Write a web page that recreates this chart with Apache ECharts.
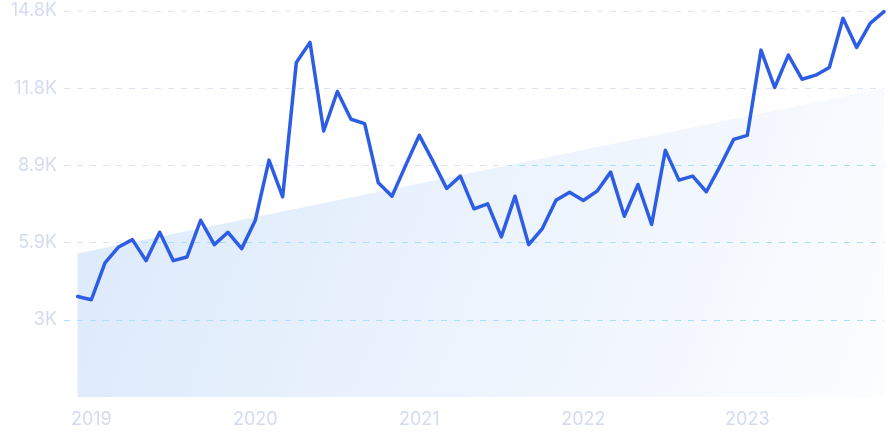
<!DOCTYPE html>
<html>
<head>
<meta charset="utf-8">
<script src="https://cdn.jsdelivr.net/npm/echarts@6/dist/echarts.min.js"></script>
<style>html,body{margin:0;padding:0;background:#fff}#c{width:888px;height:443px}</style>
</head>
<body>
<div id="c"></div>
<script>
// Monthly categories: Dec 2018 .. Nov 2023 (a leading blank slot lets the grid lines start left of the data)
const firstYear = 2018, firstMonth = 12, monthCount = 60;
const categories = [''];
for (let k = 0; k < monthCount; k++) {
  const m = (firstMonth - 1 + k) % 12 + 1;
  const y = firstYear + Math.floor((firstMonth - 1 + k) / 12);
  categories.push(y + '-' + String(m).padStart(2, '0'));
}

const values = [
  3856, 3729, 5140, 5754, 6035, 5228, 6316, 5228, 5370, 6777,
  5843, 6316, 5689, 6777, 9083, 7677, 12827, 13597, 10198, 11713,
  10648, 10482, 8214, 7700, 8880, 10033, 9033, 7996, 8469, 7215,
  7407, 6139, 7700, 5843, 6458, 7546, 7853, 7534, 7892, 8622,
  6931, 8149, 6612, 9456, 8315, 8469, 7869, 8841, 9879, 10033,
  13300, 11866, 13108, 12185, 12339, 12635, 14519, 13404, 14338, 14773
];

const trendStart = 5500;
const trendEnd = 11840;

const yTicks = [0, 2960, 5920, 8880, 11840, 14800];
const yTickLabels = ['', '3K', '5.9K', '8.9K', '11.8K', '14.8K'];

const lineData = [null].concat(values);
const trendData = [null, trendStart];
for (let k = 2; k < monthCount; k++) trendData.push(null);
trendData.push(trendEnd);

const chart = echarts.init(document.getElementById('c'), null, {renderer: 'canvas'});

const splitColor = new echarts.graphic.LinearGradient(471, 122.5, 491, 220.5, [
  {offset: 0, color: '#dbe3f7'},
  {offset: 0.5, color: '#dbe3f7'},
  {offset: 0.5, color: '#a8e0ff'},
  {offset: 1, color: '#a8e0ff'}
], true);

chart.setOption({
  animation: false,
  backgroundColor: '#ffffff',
  grid: {left: 64, right: 4, top: 11, bottom: 46, containLabel: false},
  xAxis: {
    type: 'category',
    data: categories,
    boundaryGap: false,
    axisLine: {show: false},
    axisTick: {show: false},
    splitLine: {show: false},
    axisLabel: {
      interval: 0,
      margin: 14,
      color: '#d3dbf3',
      fontFamily: 'Inter',
      fontSize: 18,
      formatter: function (v) { return v.endsWith('-01') ? v.slice(0, 4) : ''; }
    },
    z: 2
  },
  yAxis: {
    type: 'value',
    min: yTicks[0],
    max: yTicks[yTicks.length - 1],
    interval: yTicks[1] - yTicks[0],
    axisLine: {show: false},
    axisTick: {show: false},
    axisLabel: {
      margin: 7,
      color: '#d3dbf3',
      fontFamily: 'Inter',
      fontSize: 18,
      formatter: function (v) {
        const i = yTicks.indexOf(v);
        return i >= 0 ? yTickLabels[i] : '';
      }
    },
    splitLine: {
      show: true,
      showMinLine: false,
      lineStyle: {color: splitColor, type: [6, 7], width: 1}
    },
    z: 2
  },
  series: [
    {
      type: 'line',
      data: trendData,
      connectNulls: true,
      symbol: 'none',
      lineStyle: {width: 0, opacity: 0},
      areaStyle: {
        opacity: 1,
        color: new echarts.graphic.LinearGradient(0, 0, 1, 1, [
          {offset: 0, color: '#dbe9fb'},
          {offset: 1, color: '#fcfdff'}
        ])
      },
      z: 1,
      silent: true
    },
    {
      type: 'line',
      data: lineData,
      symbol: 'none',
      smooth: false,
      lineStyle: {width: 3.5, color: '#2d5de4', join: 'round', cap: 'round'},
      z: 3
    }
  ]
});
</script>
</body>
</html>
